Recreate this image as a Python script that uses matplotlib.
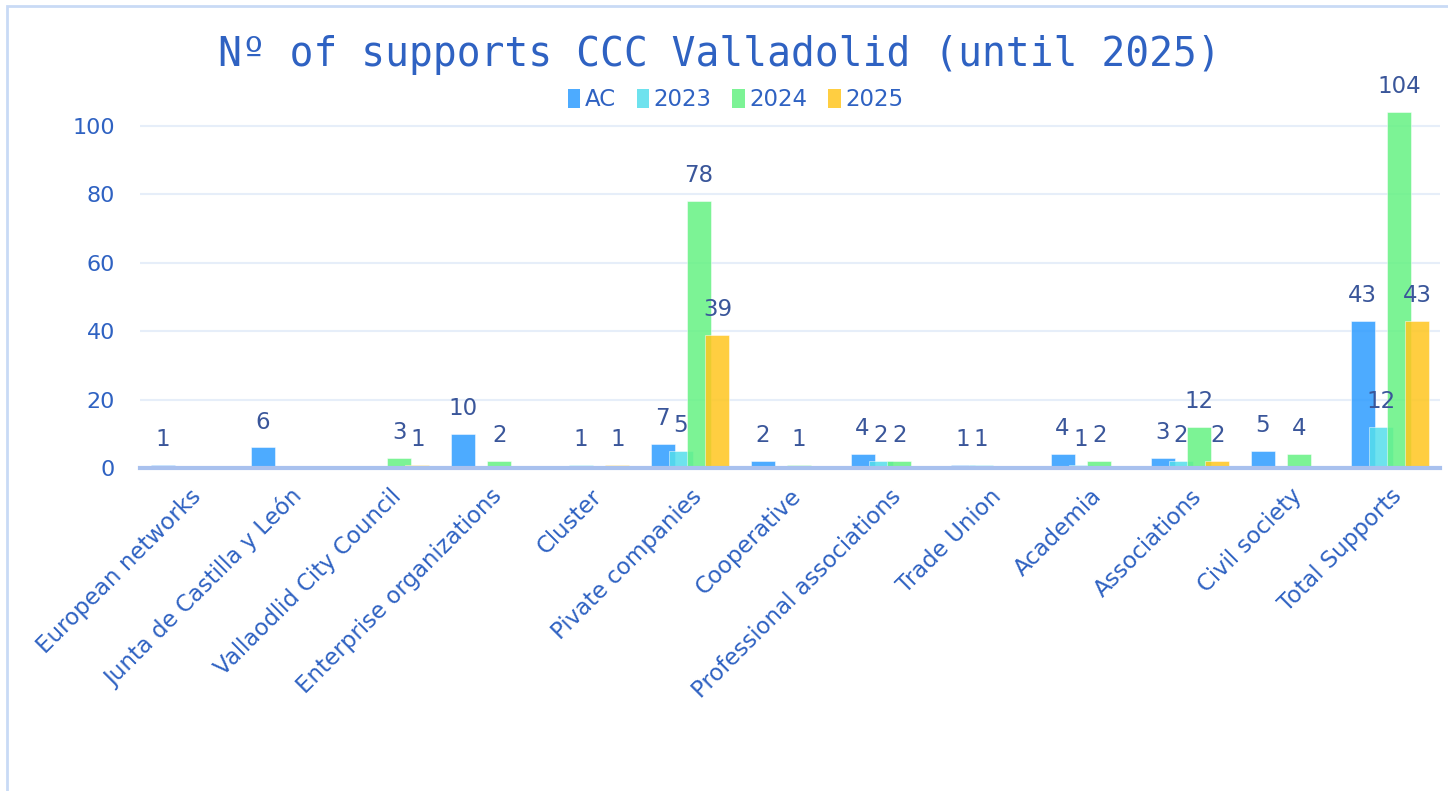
import numpy as np
import matplotlib
matplotlib.use('Agg')
import matplotlib.pyplot as plt
from matplotlib.patches import Rectangle, Patch

categories = ['European networks', 'Junta de Castilla y León', 'Vallaodlid City Council',
              'Enterprise organizations', 'Cluster', 'Pivate companies', 'Cooperative',
              'Professional associations', 'Trade Union', 'Academia', 'Associations',
              'Civil society', 'Total Supports']
series_names = ['AC', '2023', '2024', '2025']
ac = [1, 6, 0, 10, 0, 7, 2, 4, 1, 4, 3, 5, 43]
y2023 = [0, 0, 0, 0, 1, 5, 0, 2, 1, 1, 2, 0, 12]
y2024 = [0, 0, 3, 2, 0, 78, 1, 2, 0, 2, 12, 4, 104]
y2025 = [0, 0, 1, 0, 1, 39, 0, 0, 0, 0, 2, 0, 43]
colors = ['#2E9CFF', '#55DDEB', '#65F283', '#FFC61F']

blue_txt = '#2F62C2'
lbl_txt = '#3A569A'

fig = plt.figure(figsize=(14.48, 7.91), dpi=100)

# card border
fig.patches.append(Rectangle((7/1448, -0.1), 1.2, 1 - 6/791 + 0.1, transform=fig.transFigure,
                             fill=False, edgecolor='#C9DAF5', linewidth=2))

ax = fig.add_axes([140/1448, 1 - 468/791, 1300/1448, (468 - 91.8)/791])
x = np.arange(len(categories))
step = 0.183
width = 0.24
for i, vals in enumerate([ac, y2023, y2024, y2025]):
    bars = ax.bar(x + (i - 1.5) * step, vals, width, color=colors[i], alpha=0.85,
                  edgecolor='white', linewidth=0.4, zorder=3)
    ax.bar_label(bars, labels=[str(v) if v else '' for v in vals], padding=10,
                 fontsize=16.5, color=lbl_txt, zorder=5)

ax.set_xlim(-0.5, len(categories) - 0.5)
ax.set_ylim(0, 110)
ax.set_yticks([0, 20, 40, 60, 80, 100])
ax.yaxis.grid(True, color='#E6EEF9', linewidth=1.5, zorder=0)
ax.set_axisbelow(True)
for s in ['top', 'right', 'left']:
    ax.spines[s].set_visible(False)
ax.spines['bottom'].set_color('#A9C1EE')
ax.spines['bottom'].set_linewidth(3)
ax.spines['bottom'].set_zorder(6)
ax.tick_params(axis='y', length=0, labelsize=16, labelcolor=blue_txt, pad=18)
ax.tick_params(axis='x', length=0, labelsize=16.5, labelcolor=blue_txt, pad=12)
ax.set_xticks(x)
ax.set_xticklabels(categories, rotation=45, ha='right', rotation_mode='anchor')

fig.text(0.497, 1 - 55/791, 'Nº of supports CCC Valladolid (until 2025)', ha='center', va='center',
         fontsize=28.5, color=blue_txt, family='DejaVu Sans Mono')

handles = [Patch(facecolor=c, alpha=0.85) for c in colors]
fig.legend(handles, series_names, loc='center', bbox_to_anchor=(0.508, 1 - 100/791), ncol=4,
           frameon=False, fontsize=16.5, labelcolor=blue_txt, handlelength=0.55, handleheight=0.85,
           handletextpad=0.2, columnspacing=0.9)

fig.savefig('out.png', dpi=100)
